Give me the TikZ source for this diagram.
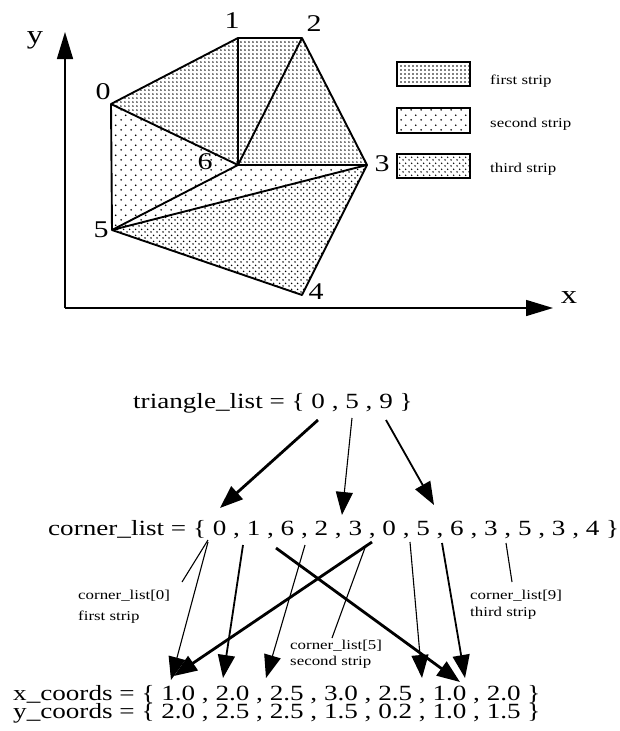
\documentclass[tikz,border=0pt]{standalone}
\usepackage{fontspec}
\usepackage{graphicx}
\setmainfont{Liberation Serif}
\usetikzlibrary{arrows.meta,patterns}
\pgfdeclarepatternformonly{densedots}{\pgfpoint{0pt}{0pt}}{\pgfpoint{4pt}{4pt}}{\pgfpoint{4pt}{4pt}}{\pgfpathcircle{\pgfpoint{1.2pt}{1.2pt}}{1.0pt}\pgfusepath{fill}}
\pgfdeclarepatternformonly{meddots}{\pgfpoint{0pt}{0pt}}{\pgfpoint{6pt}{6pt}}{\pgfpoint{6pt}{6pt}}{\pgfpathcircle{\pgfpoint{1.2pt}{1.2pt}}{0.95pt}\pgfusepath{fill}\pgfpathcircle{\pgfpoint{4.2pt}{4.2pt}}{0.95pt}\pgfusepath{fill}}
\pgfdeclarepatternformonly{sparsedots}{\pgfpoint{0pt}{0pt}}{\pgfpoint{10pt}{10pt}}{\pgfpoint{10pt}{10pt}}{\pgfpathcircle{\pgfpoint{1.2pt}{1.2pt}}{1.0pt}\pgfusepath{fill}\pgfpathcircle{\pgfpoint{6.2pt}{6.2pt}}{1.0pt}\pgfusepath{fill}}
\newcommand{\hs}[1]{\scalebox{1.25}[1]{#1}}
\begin{document}
\begin{tikzpicture}[x=1pt,y=-1pt,
  big/.style={inner sep=0pt,font=\fontsize{21.7}{22}\selectfont},
  small/.style={inner sep=0pt,font=\fontsize{13.5}{14}\selectfont},
  vlbl/.style={inner sep=0pt,font=\fontsize{24}{24}\selectfont},
  axlbl/.style={inner sep=0pt,font=\fontsize{26}{26}\selectfont},
  axis/.style={line width=1.5pt,-{Triangle[length=27pt,width=16pt]}},
  edge/.style={line width=1.9pt,line join=round},
  legbox/.style={line width=2.4pt},
  arr/.style={-{Triangle[length=23pt,width=17pt]}},
  thinln/.style={line width=1.1pt},
  medln/.style={line width=1.8pt},
  thickln/.style={line width=2.8pt}]
\useasboundingbox (0,0) rectangle (620,731);
% ---------- top diagram ----------
\coordinate (O) at (65,308);
\coordinate (ytip) at (65,32);
\coordinate (xtip) at (553,308);
\coordinate (v0) at (111,104);
\coordinate (v1) at (238,38);
\coordinate (v2) at (302,38);
\coordinate (v3) at (367,165);
\coordinate (v4) at (302,295);
\coordinate (v5) at (112,230);
\coordinate (v6) at (238,165);
% fills
\fill[pattern=densedots] (v0)--(v1)--(v6)--cycle;
\fill[pattern=densedots] (v1)--(v6)--(v2)--cycle;
\fill[pattern=densedots] (v6)--(v2)--(v3)--cycle;
\fill[pattern=sparsedots] (v0)--(v5)--(v6)--cycle;
\fill[pattern=sparsedots] (v5)--(v6)--(v3)--cycle;
\fill[pattern=meddots] (v5)--(v3)--(v4)--cycle;
% edges
\draw[edge] (v0)--(v1)--(v2)--(v3)--(v4)--(v5)--cycle;
\draw[edge] (v1)--(v6);
\draw[edge] (v0)--(v6)--(v3);
\draw[edge] (v6)--(v2);
\draw[edge] (v5)--(v6);
\draw[edge] (v5)--(v3);
% axes
\draw[axis] (O)--(ytip);
\draw[axis] (O)--(xtip);
\node[axlbl] (ly) at (35,40) {\hs{y}};
\node[axlbl] (lx) at (569,298) {\hs{x}};
% vertex labels
\node[vlbl] (l0) at (103,92) {\hs{0}};
\node[vlbl] (l1) at (232,21) {\hs{1}};
\node[vlbl] (l2) at (314,24) {\hs{2}};
\node[vlbl] (l3) at (382,164) {\hs{3}};
\node[vlbl] (l4) at (316,292) {\hs{4}};
\node[vlbl] (l5) at (101,230) {\hs{5}};
\node[vlbl] (l6) at (205,162) {\hs{6}};
% legend
\draw[legbox,pattern=densedots] (397,62) rectangle (470,86);
\draw[legbox,pattern=sparsedots] (397,108) rectangle (470,133);
\draw[legbox,pattern=meddots] (397,154) rectangle (470,178);
\node[small,anchor=base west] (lg1) at (490,84) {\hs{first strip}};
\node[small,anchor=base west] (lg2) at (490,127) {\hs{second strip}};
\node[small,anchor=base west] (lg3) at (490,172) {\hs{third strip}};
% ---------- bottom lists ----------
\node[big,anchor=base west] (tl) at (133,408) {\hs{triangle\_list = \{ 0 , 5 , 9 \}}};
\node[big,anchor=base west] (cl) at (48,535) {\hs{corner\_list = \{ 0 , 1 , 6 , 2 , 3 , 0 , 5 , 6 , 3 , 5 , 3 , 4 \}}};
\node[big,anchor=base west] (xc) at (13,700) {\hs{x\_coords = \{ 1.0 , 2.0 , 2.5 , 3.0 , 2.5 , 1.0 , 2.0 \}}};
\node[big,anchor=base west] (yc) at (13,718) {\hs{y\_coords = \{ 2.0 , 2.5 , 2.5 , 1.5 , 0.2 , 1.0 , 1.5 \}}};
% small labels
\node[small,anchor=base west] (c0a) at (78,599) {\hs{corner\_list[0]}};
\node[small,anchor=base west] (c0b) at (78,620) {\hs{first strip}};
\node[small,anchor=base west] (c5a) at (290,649) {\hs{corner\_list[5]}};
\node[small,anchor=base west] (c5b) at (290,665) {\hs{second strip}};
\node[small,anchor=base west] (c9a) at (470,599) {\hs{corner\_list[9]}};
\node[small,anchor=base west] (c9b) at (470,616) {\hs{third strip}};
% triangle_list -> corner_list arrows
\coordinate (t0) at (318,420); \coordinate (k0) at (220,508);
\coordinate (t5) at (352,418); \coordinate (k5) at (342,515);
\coordinate (t9) at (386,420); \coordinate (k9) at (434,505);
\draw[arr,thickln] (t0)--(k0);
\draw[arr,thinln] (t5)--(k5);
\draw[arr,medln] (t9)--(k9);
% leaders
\coordinate (p0) at (208,540); \coordinate (q0) at (182,582);
\coordinate (p5) at (366,545); \coordinate (q5) at (332,638);
\coordinate (p9) at (506,543); \coordinate (q9) at (512,582);
\draw[thinln] (p0)--(q0);
\draw[thinln] (p5)--(q5);
\draw[thinln] (p9)--(q9);
% corner_list -> coords arrows
\coordinate (sa) at (208,542); \coordinate (ea) at (171,680);
\coordinate (sb) at (243,545); \coordinate (eb) at (223,678);
\coordinate (sc) at (372,542); \coordinate (ec) at (174,676);
\coordinate (sd) at (305,545); \coordinate (ed) at (266,678);
\coordinate (se) at (276,548); \coordinate (ee) at (460,682);
\coordinate (sf) at (410,542); \coordinate (ef) at (422,678);
\coordinate (sg) at (442,543); \coordinate (eg) at (465,678);
\draw[arr,thinln] (sa)--(ea);
\draw[arr,medln] (sb)--(eb);
\draw[arr,thickln] (sc)--(ec);
\draw[arr,thinln] (sd)--(ed);
\draw[arr,thickln] (se)--(ee);
\draw[arr,thinln] (sf)--(ef);
\draw[arr,medln] (sg)--(eg);
\end{tikzpicture}
\end{document}
